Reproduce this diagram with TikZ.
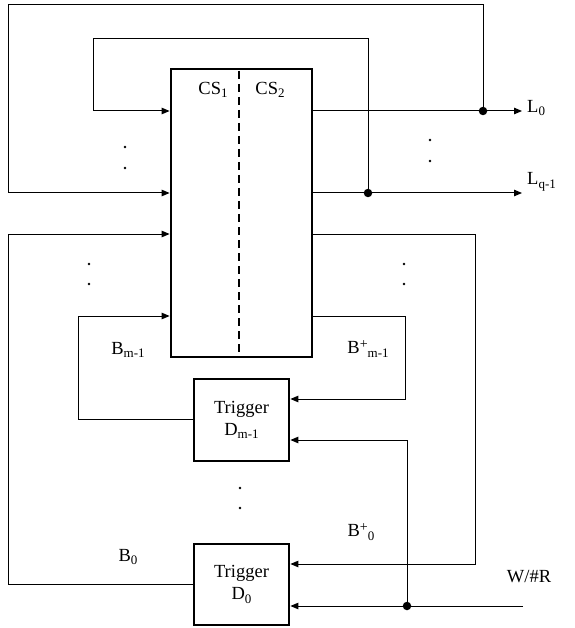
\documentclass[tikz,border=0pt]{standalone}
\usepackage{fontspec}
\setmainfont{Liberation Serif}
\usetikzlibrary{arrows.meta}
\newcommand\lowidx[1]{\raisebox{-0.2em}{\fontsize{13}{14}\selectfont #1}}
\newcommand\highidx[1]{\raisebox{0.3em}{\fontsize{14}{14}\selectfont #1}}
\begin{document}
\begin{tikzpicture}[x=1pt,y=-1pt,
  conn/.style={line width=1pt},
  arr/.style={conn,-{Triangle[length=8pt,width=6.5pt]}},
  bigbox/.style={draw,line width=2.8pt,inner sep=0pt},
  junction/.style={circle,fill,inner sep=0pt,minimum size=8.5pt},
  lbl/.style={font=\fontsize{18.5}{22}\selectfont, inner sep=0pt}]
\useasboundingbox (0,0) rectangle (574,628);
% main block
\node[bigbox, minimum width=141pt, minimum height=288pt] (cs) at (241.5,213) {};
\draw[line width=2.2pt, dash pattern=on 8pt off 5pt] (239,71) -- (239,352);
\node[lbl] (cs1) at (213,90) {CS\lowidx{1}};
\node[lbl] (cs2) at (270,90) {CS\lowidx{2}};
% triggers
\node[bigbox, lbl, minimum width=95pt, minimum height=82pt, align=center] (dm) at (241.5,420) {Trigger\\D\lowidx{m-1}};
\node[bigbox, lbl, minimum width=95pt, minimum height=81pt, align=center] (d0) at (241.5,584.5) {Trigger\\D\lowidx{0}};
% rows
\coordinate (yL0) at (0,111);
\coordinate (yLq) at (0,193);
\coordinate (yB1) at (0,234);
\coordinate (yB2) at (0,316);
\coordinate (yDmA) at (0,399);
\coordinate (yDmO) at (0,419);
\coordinate (yDmB) at (0,440);
\coordinate (yD0A) at (0,564);
\coordinate (yD0O) at (0,584);
% bends and ends
\coordinate (topL) at (8,5);
\coordinate (loopL) at (93,39);
\coordinate (cR1) at (475,234);
\coordinate (cR2) at (405,316);
\coordinate (cL1) at (8,234);
\coordinate (cL2) at (78,316);
\coordinate (L0end) at (522,111);
\coordinate (Lqend) at (522,193);
\coordinate (Win) at (523,606);
% junctions
\node[junction] (j0) at (483,111) {};
\node[junction] (jq) at (368,193) {};
\node[junction] (jw) at (407,606) {};
% outputs
\draw[arr] (cs.east |- yL0) -- (L0end);
\draw[arr] (cs.east |- yLq) -- (Lqend);
% feedback loops
\draw[arr] (j0.center) |- (topL) |- (cs.west |- yLq);
\draw[arr] (jq.center) |- (loopL) |- (cs.west |- yL0);
\draw[arr] (cs.east |- yB1) -- (cR1) |- (d0.east |- yD0A);
\draw[arr] (cs.east |- yB2) -- (cR2) |- (dm.east |- yDmA);
\draw[arr] (dm.west |- yDmO) -| (cL2) -- (cs.west |- yB2);
\draw[arr] (d0.west |- yD0O) -| (cL1) -- (cs.west |- yB1);
\draw[arr] (Win) -- (d0.east |- jw);
\draw[arr] (jw.center) |- (dm.east |- yDmB);
% labels
\node[lbl, anchor=west] (l0) at (527,108) {L\lowidx{0}};
\node[lbl, anchor=west] (lq) at (527,182) {L\lowidx{q-1}};
\node[lbl] (bm) at (128,350) {B\lowidx{m-1}};
\node[lbl] (bpm) at (368,349) {B\highidx{+}\lowidx{m-1}};
\node[lbl] (bp0) at (361,532) {B\highidx{+}\lowidx{0}};
\node[lbl] (b0) at (128,557) {B\lowidx{0}};
\node[lbl] (wr) at (529,577) {W/\#R};
% elision dots
\foreach \p in {(125,147),(125,168),(430,140),(430,161),(89,264),(89,284),(404,264),(404,284),(240,488),(240,508)}
  \fill \p circle[radius=1.3];
\end{tikzpicture}
\end{document}
